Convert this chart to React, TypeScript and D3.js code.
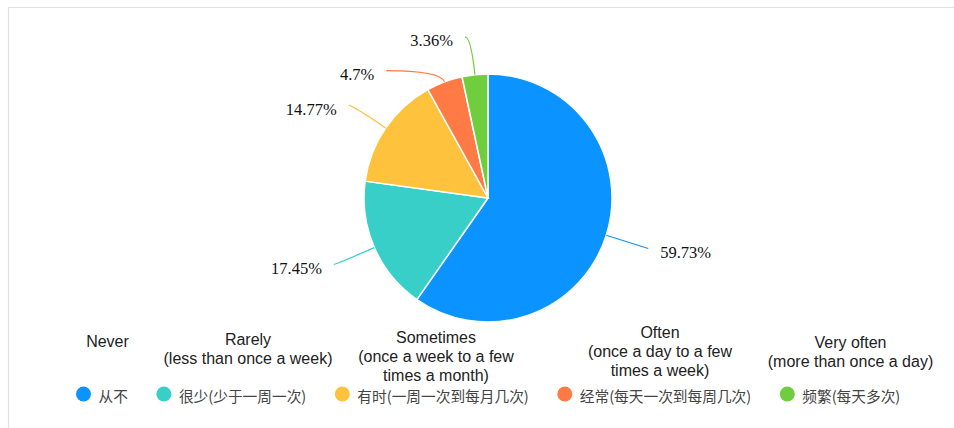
import React, { useMemo } from "react";
import * as d3 from "d3";

// ---- data ----
const categories = ["从不", "很少(少于一周一次)", "有时(一周一次到每月几次)", "经常(每天一次到每周几次)", "频繁(每天多次)"];
const values = [59.73, 17.45, 14.77, 4.7, 3.36];
const labels = ["59.73%", "17.45%", "14.77%", "4.7%", "3.36%"];
const englishLabels = [
  ["Never"],
  ["Rarely", "(less than once a week)"],
  ["Sometimes", "(once a week to a few", "times a month)"],
  ["Often", "(once a day to a few", "times a week)"],
  ["Very often", "(more than once a day)"],
];

// ---- styles / layout ----
const colors = ["#0b93ff", "#38cfc9", "#ffc23d", "#ff7a45", "#6fcd3e"];
const leaderLens: [number, number][] = [
  [44, 0],
  [42, 2],
  [40, 4],
  [12, 54],
  [38, 6],
];
const englishLayout = [
  { cx: 107.5, y0: 347 },
  { cx: 248, y0: 345 },
  { cx: 436, y0: 343 },
  { cx: 660, y0: 338 },
  { cx: 850.5, y0: 348 },
];

const W = 954;
const H = 428;
const CX = 488;
const CY = 198;
const R = 124;
const LEGEND_SIZE = 14.7;
const LEGEND_FONT = `${LEGEND_SIZE}px 'Noto Sans CJK SC'`;

export default function App() {
  const pie = d3
    .pie<number>()
    .sort(null)
    .value((d) => d)
    .startAngle(0)
    .endAngle(2 * Math.PI);
  const arcs = pie(values);
  const arc = d3.arc<d3.PieArcDatum<number>>().innerRadius(0).outerRadius(R);

  const legendX = useMemo(() => {
    const canvas = document.createElement("canvas");
    const ctx = canvas.getContext("2d")!;
    ctx.font = LEGEND_FONT;
    const xs: number[] = [];
    let x = 83.5;
    categories.forEach((c) => {
      xs.push(x);
      x += 15 + ctx.measureText(c).width + 36;
    });
    return xs;
  }, []);

  const pt = (a: number, r: number): [number, number] => [r * Math.sin(a), -r * Math.cos(a)];

  return (
    <svg
      width={W}
      height={H}
      style={{ position: "absolute", left: 0, top: 0, background: "#fff" }}
    >
      <path d={`M8.5,${H} L8.5,7.5 L${W},7.5`} fill="none" stroke="#e2e2e2" strokeWidth={1.2} />
      <g transform={`translate(${CX},${CY})`}>
        {arcs.map((a, i) => (
          <path key={i} d={arc(a) || ""} fill={colors[i]} stroke="#fff" strokeWidth={1.5} />
        ))}
        {arcs.map((a, i) => {
          const mid = (a.startAngle + a.endAngle) / 2;
          const [l1, l2] = leaderLens[i];
          const p0 = pt(mid, R);
          const p1 = pt(mid, R + l1);
          const sgn = Math.sin(mid) >= 0 ? 1 : -1;
          const p2: [number, number] = [p1[0] + sgn * l2, p1[1]];
          return (
            <g key={"l" + i}>
              <path
                d={`M${p0[0]},${p0[1]} Q${p1[0]},${p1[1]} ${p2[0]},${p2[1]}`}
                fill="none"
                stroke={colors[i]}
                strokeWidth={1.2}
              />
              <text
                x={p2[0] + sgn * 12}
                y={p2[1] + 4}
                textAnchor={sgn > 0 ? "start" : "end"}
                dominantBaseline="central"
                fontFamily="'Liberation Serif', 'DejaVu Serif', serif"
                fontSize={16.5}
                fill="#111"
              >
                {labels[i]}
              </text>
            </g>
          );
        })}
      </g>
      {englishLabels.map((lines, i) => (
        <text
          key={"e" + i}
          textAnchor="middle"
          fontFamily="'Liberation Sans', Arial, sans-serif"
          fontSize={16}
          fill="#222"
        >
          {lines.map((ln, j) => (
            <tspan key={j} x={englishLayout[i].cx} y={englishLayout[i].y0 + j * 19}>
              {ln}
            </tspan>
          ))}
        </text>
      ))}
      {categories.map((c, i) => (
        <g key={"g" + i}>
          <circle cx={legendX[i]} cy={394} r={7.5} fill={colors[i]} />
          <text
            x={legendX[i] + 15}
            y={395}
            dominantBaseline="central"
            fontFamily="'Noto Sans CJK SC', sans-serif"
            fontSize={LEGEND_SIZE}
            fill="#444"
          >
            {c}
          </text>
        </g>
      ))}
    </svg>
  );
}
